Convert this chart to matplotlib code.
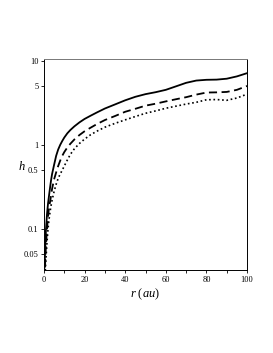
import numpy as np
import matplotlib
matplotlib.use('Agg')
import matplotlib.pyplot as plt

plt.rcParams['font.family'] = ['Liberation Serif', 'DejaVu Serif']
plt.rcParams['mathtext.fontset'] = 'custom'
plt.rcParams['mathtext.it'] = 'Liberation Serif:italic'
plt.rcParams['mathtext.rm'] = 'Liberation Serif'

# radius (au)
r = [0.3, 0.6, 1, 1.5, 2, 2.5, 3, 3.5, 4, 5, 6, 7, 8, 9, 10, 11.5, 13, 15,
     17.5, 20, 23, 26, 30, 35, 40, 45, 50, 55, 60, 65, 70, 75, 80, 85, 90,
     95, 100]

h_solid = [0.035, 0.06, 0.1, 0.15, 0.2, 0.25, 0.31, 0.38, 0.45, 0.58, 0.74,
           0.88, 1.0, 1.11, 1.22, 1.37, 1.5, 1.66, 1.85, 2.03, 2.22, 2.42,
           2.7, 3.02, 3.38, 3.72, 4.0, 4.22, 4.5, 4.95, 5.45, 5.8, 5.92,
           5.95, 6.1, 6.5, 7.1]
h_dash = [0.025, 0.04, 0.065, 0.1, 0.14, 0.18, 0.21, 0.25, 0.3, 0.39, 0.47,
          0.56, 0.65, 0.74, 0.82, 0.93, 1.03, 1.16, 1.31, 1.45, 1.6, 1.76,
          1.97, 2.2, 2.47, 2.68, 2.92, 3.08, 3.28, 3.48, 3.68, 3.95, 4.18,
          4.2, 4.25, 4.5, 5.0]
h_dot = [0.02, 0.03, 0.045, 0.07, 0.1, 0.13, 0.16, 0.19, 0.22, 0.28, 0.34,
         0.4, 0.45, 0.5, 0.56, 0.66, 0.77, 0.9, 1.04, 1.17, 1.32, 1.45, 1.62,
         1.8, 1.98, 2.17, 2.37, 2.53, 2.72, 2.88, 3.05, 3.2, 3.43, 3.45,
         3.38, 3.6, 4.0]

yticks = [0.05, 0.1, 0.5, 1, 5, 10]
ylabels = ['0.05', '0.1', '0.5', '1', '5', '10']

fig = plt.figure(figsize=(2.73, 3.53), dpi=100)
ax = fig.add_axes([0.161, 0.235, 0.744, 0.598])

ax.plot(r, h_solid, color='black', lw=1.3, ls='-')
ax.plot(r, h_dash, color='black', lw=1.3, ls=(0, (4.5, 2.5)))
ax.plot(r, h_dot, color='black', lw=1.2, ls=(0, (1, 1.6)))

ax.set_yscale('log')
ax.set_xlim(0, 100)
ax.set_ylim(0.0326, 10.47)
ax.set_yticks(yticks)
ax.set_yticklabels(ylabels)
ax.yaxis.set_minor_locator(matplotlib.ticker.NullLocator())
ax.set_xticks([0, 20, 40, 60, 80, 100])
ax.set_xticks([10, 30, 50, 70, 90], minor=True)

ax.tick_params(which='both', direction='out', length=2.5, width=0.6,
               labelsize=6, pad=1.5)
for s in ax.spines.values():
    s.set_linewidth(0.7)
ax.spines['top'].set_color('#777777')

ax.set_xlabel(r'$r\ (au)$', fontsize=9, labelpad=2)
ax.set_ylabel(r'$h$', fontsize=9, rotation=0, va='center')
ax.yaxis.set_label_coords(-0.11, 0.49)

fig.savefig('out.png', dpi=100)
